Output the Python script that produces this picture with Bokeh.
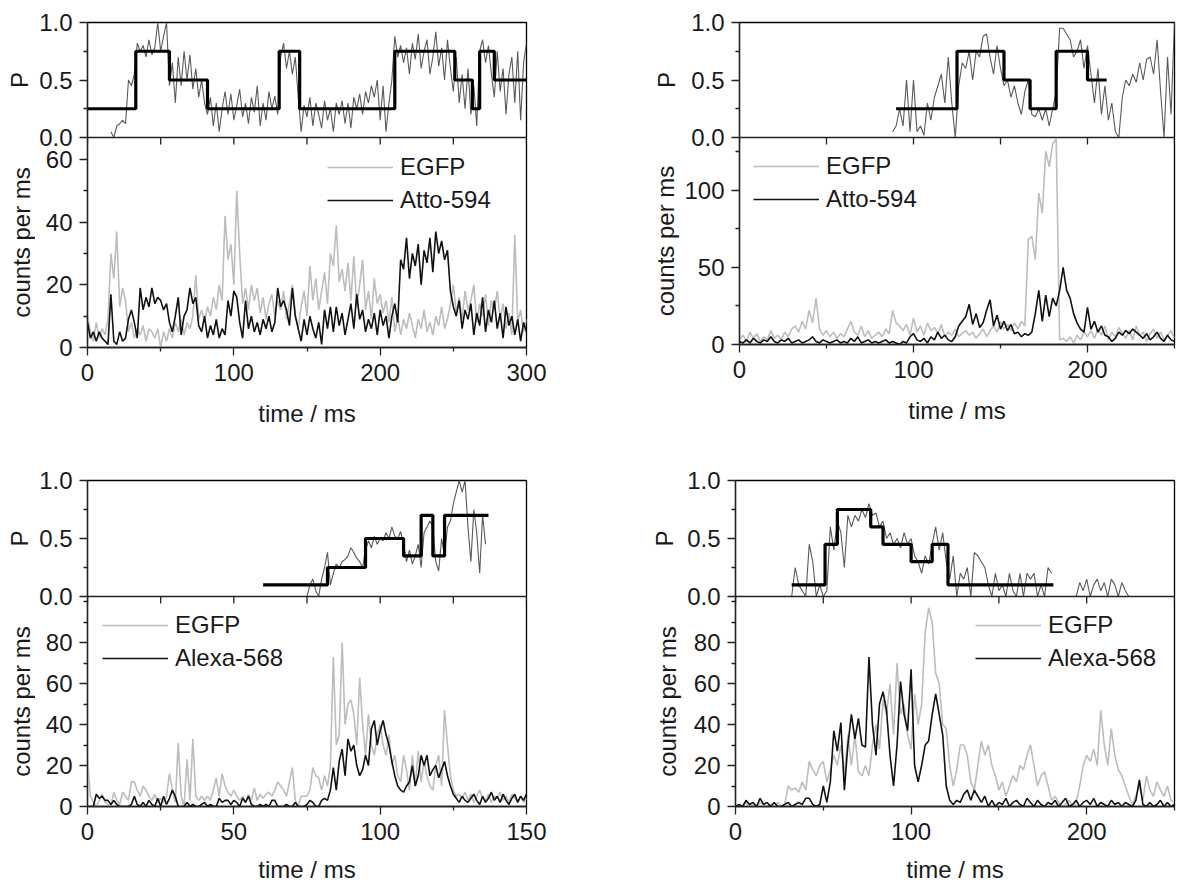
import numpy as np
from bokeh.plotting import figure
from bokeh.layouts import row, column
from bokeh.models import (Range1d, FixedTicker, CustomJSTickFormatter, Span,
                          Legend, LegendItem)
from bokeh.core.properties import value
from bokeh.embed import file_html
from bokeh.resources import INLINE

FONT = "Liberation Sans"
TXT = "#1a1a1a"
AX = "#222222"
EGFP_C = "#bdbdbd"
DYE_C = "#111111"
PN_C = "#5a5a5a"

# ---------------- Panel 1 (top left) : 2 ms bins, 0..300 ms ----------------
p1_step = 2
p1_dye = [8,3,5,2,5,3,2,1,17,2, 1,5,2,3,9,12,8,3,19,12, 16,13,19,14,16,15,12,14,8,5,
          10,16,4,10,12,19,14,16,7,5, 10,3,7,4,9,3,6,4,15,10, 18,16,8,3,15,6,10,5,8,4,
          9,6,10,5,8,19,13,15,12,7, 19,10,6,2,9,4,10,6,3,8, 1,12,6,13,5,13,7,11,4,9,
          14,6,17,9,12,5,9,6,11,4, 12,7,10,3,10,14,8,28,25,35, 22,30,26,33,20,31,27,35,24,37,
          30,34,28,31,18,13,10,15,6,12, 9,14,4,11,7,16,5,12,8,15, 6,11,3,13,7,10,4,9,2,8, 5]
p1_egfp = [10,5,2,8,3,6,4,9,30,22, 37,13,19,15,5,8,3,6,4,7, 2,6,5,3,6,0,5,2,6,3,
           8,5,9,4,8,6,10,23,9,12, 8,13,10,16,12,20,15,42,28,33, 20,50,30,14,19,12,20,15,19,11,
           16,9,14,17,10,15,12,18,9,14, 20,11,6,13,18,10,26,15,22,12, 18,24,14,30,26,39,21,25,18,27,
           15,29,13,20,28,12,18,9,22,14, 17,11,15,8,16,5,10,4,9,6, 11,7,3,9,6,12,5,8,4,10,
           7,13,6,9,14,20,11,16,9,18, 12,15,20,8,14,10,17,7,15,12, 18,9,14,6,11,4,36,8,12,5, 9]
p1_p_t0 = 16
p1_p = [0.05,0.0,0.1,0.12,0.15,0.12,0.5,0.45,0.55,0.82, 0.75,0.8,0.7,0.85,0.72,0.78,1.0,0.75,0.88,1.0,
        0.45,0.65,0.3,0.7,0.45,0.75,0.5,0.72,0.42,0.6, 0.35,0.5,0.3,0.2,0.35,0.1,0.3,0.05,0.25,0.4,
        0.2,0.38,0.15,0.28,0.42,0.18,0.3,0.12,0.35,0.22, 0.45,0.1,0.3,0.15,0.4,0.25,0.36,0.2,0.7,0.82,
        0.6,0.75,0.55,0.7,0.35,0.05,0.28,0.18,0.35,0.1, 0.3,0.2,0.08,0.32,0.15,0.25,0.05,0.3,0.2,0.32,
        0.12,0.3,0.08,0.35,0.25,0.38,0.2,0.4,0.3,0.45, 0.35,0.5,0.15,0.45,0.05,0.3,0.5,0.88,0.7,0.8,
        0.65,0.78,0.55,0.82,0.68,0.9,0.6,0.75,0.85,0.55, 0.7,0.92,0.62,0.78,0.5,0.85,0.6,0.4,0.7,0.3,
        0.55,0.25,0.6,0.2,0.45,0.1,0.75,0.85,0.65,0.8, 0.55,0.35,0.75,0.4,0.6,0.2,0.55,0.7,0.3,0.75,
        0.15,0.65,0.82]
p1_edges = [0,33,56,82,131,145,210,251,263,268,278,300]
p1_levels = [0.25,0.75,0.5,0.25,0.75,0.25,0.75,0.5,0.25,0.75,0.5]

# ---------------- Panel 2 (top right) : 2 ms bins, 0..250 ms ----------------
p2_step = 2
p2_dye = [2,1,3,1,4,2,1,3,2,5, 2,1,3,2,4,1,2,3,1,2, 3,5,2,1,3,2,1,2,3,1, 2,1,4,2,5,1,2,3,1,2,
          1,2,3,1,2,1,0,2,1,5, 7,3,2,4,1,5,3,8,4,6, 3,2,5,12,15,18,26,13,20,11, 14,22,29,12,19,10,15,9,13,7,
          8,5,7,6,8,20,35,15,32,18, 30,25,35,50,35,30,20,14,10,8, 24,10,15,8,12,6,5,2,4,8,
          6,9,7,10,8,6,4,7,3,5, 8,4,2,6,3,2]
p2_egfp = [3,6,2,8,4,7,2,5,3,9, 4,6,3,8,5,10,12,8,15,10, 22,14,30,10,6,9,5,8,4,7, 5,10,15,8,6,12,5,9,4,6,
           8,5,10,7,22,14,12,9,13,6, 17,8,12,6,14,9,11,7,13,5, 8,6,10,5,7,9,6,8,4,7, 10,5,9,12,8,15,10,13,9,14,
           10,15,12,68,70,55,98,85,125,115, 130,133,3,4,2,5,1,6,3,8, 5,9,4,10,6,12,3,8,5,11,
           7,4,9,3,12,6,8,2,7,10, 4,8,3,6,9,4]
p2_p_t0 = 88
p2_p = [0.05,0.1,0.25,0.1,0.5,0.05,0.5,0.05,0.1,0.02, 0.3,0.15,0.35,0.45,0.55,0.3,0.7,0.3,0.0,0.45,
        0.65,0.6,0.75,0.5,0.75,0.7,0.88,0.9,0.7,0.55, 0.8,0.6,0.45,0.5,0.35,0.45,0.3,0.2,0.4,0.5,
        0.2,0.18,0.25,0.15,0.25,0.1,0.25,0.4,0.95,0.95, 0.9,0.85,0.7,0.75,0.85,0.6,0.8,0.55,0.3,0.6,
        0.2,0.45,0.15,0.3,0.05,0.0,0.35,0.5,0.45,0.55, 0.48,0.65,0.5,0.68,0.7,0.55,0.85,0.4,0.0,0.7,
        0.2,1.0]
p2_edges = [90,125,152,167,182,200,211]
p2_levels = [0.25,0.75,0.5,0.25,0.75,0.5]

# ---------------- Panel 3 (bottom left) : 1 ms bins, 0..150 ms ----------------
p3_step = 1
p3_dye = [0,0,0,6,4,5,3,3,1,3, 1,0,0,0,0,1,5,1,0,2, 0,3,1,0,4,0,5,1,4,8, 5,0,0,0,2,0,1,0,0,1,
          2,0,1,0,0,4,2,3,3,1, 3,2,0,4,2,5,1,0,0,1, 0,1,0,3,3,0,0,0,1,0, 0,2,0,0,0,1,3,2,0,0,
          3,4,3,8,19,8,22,28,15,33, 27,30,20,15,18,25,20,38,42,30, 37,42,35,30,22,15,10,8,7,10,
          12,20,10,15,25,20,25,15,18,20, 14,18,22,15,10,6,4,2,5,3, 2,4,6,3,1,5,2,4,7,3,
          5,2,6,3,1,4,6,2,5,3, 6]
p3_egfp = [23,5,2,0,3,6,2,1,0,7, 3,1,7,5,3,12,12,8,5,10, 8,5,3,6,2,4,2,5,16,8, 2,31,5,0,23,3,33,5,3,5,
           3,5,3,8,14,5,16,10,7,5, 8,5,3,5,2,6,3,9,3,6, 4,6,7,5,8,12,10,8,5,12, 19,3,0,5,5,5,8,19,15,14,
           8,15,10,20,73,30,35,80,40,50, 52,45,30,63,40,25,45,30,25,35, 40,30,25,35,20,25,15,12,25,18,
           8,25,10,27,12,22,15,10,8,20, 25,10,47,30,15,8,5,6,4,7, 3,6,2,5,8,4,3,6,2,5,
           4,7,3,5,2,6,4,3,5,2, 4]
p3_p_t0 = 75
p3_p = [0.0,0.1,0.15,0.05,0.0,0.15,0.25,0.38,0.1,0.2, 0.28,0.25,0.3,0.32,0.35,0.42,0.38,0.33,0.3,0.25,
        0.4,0.48,0.42,0.52,0.45,0.5,0.48,0.55,0.5,0.6, 0.52,0.5,0.56,0.45,0.3,0.4,0.28,0.35,0.45,0.25,
        0.55,0.6,0.65,0.6,0.3,0.22,0.5,0.35,0.6,0.65, 0.8,0.9,1.0,0.9,1.0,0.6,0.3,0.75,0.55,0.2,
        0.7,0.45]
p3_edges = [60,82,95,108,114,118,122,137]
p3_levels = [0.1,0.25,0.5,0.35,0.7,0.35,0.7]

# ---------------- Panel 4 (bottom right) : 2 ms bins, 0..250 ms ----------------
p4_step = 2
p4_dye = [0,1,0,3,1,2,0,4,1,2, 0,2,0,0,1,2,0,1,2,1, 4,4,1,0,1,10,2,12,37,27, 41,8,30,45,33,43,30,29,73,40,
          25,50,56,47,25,10,30,61,45,37, 67,20,12,20,30,32,45,55,45,35, 10,3,1,3,2,6,8,3,8,5,
          2,5,0,3,0,2,1,4,0,2, 3,1,0,4,2,0,3,1,0,2, 1,3,0,2,4,0,1,3,0,2, 3,1,4,0,2,1,0,3,1,2,
          0,2,1,0,3,13,1,0,2,0, 1,3,0,2,0,1]
p4_egfp = [0,1,0,2,0,1,0,2,1,0, 1,0,2,0,1,10,8,9,7,12, 8,22,18,15,20,22,12,18,25,20, 30,15,35,20,35,17,15,20,15,30,
           40,28,52,45,60,35,70,45,50,35, 28,55,40,50,85,97,90,65,60,40, 38,20,10,18,30,30,25,12,8,20,
           32,25,30,20,15,8,12,5,10,15, 12,20,18,25,30,20,10,15,17,10, 3,5,2,0,1,3,0,2,10,20,
           25,22,28,20,47,30,20,38,25,18, 15,10,5,1,5,10,3,15,8,5, 12,8,5,10,3,2]
p4_pa_t0 = 32
p4_pa = [0.0,0.25,0.1,0.05,0.0,0.45,0.3,0.0,0.1,0.0, 0.05,0.6,0.4,0.65,0.55,0.25,0.7,0.6,0.7,0.65,
         0.75,0.68,0.8,0.7,0.72,0.6,0.65,0.5,0.55,0.45, 0.5,0.42,0.55,0.45,0.5,0.35,0.3,0.2,0.35,0.28,
         0.45,0.6,0.4,0.55,0.3,0.15,0.35,0.0,0.2,0.15, 0.25,0.0,0.38,0.35,0.3,0.25,0.1,0.0,0.2,0.05,
         0.1,0.0,0.2,0.05,0.0,0.2,0.0,0.2,0.15,0.2, 0.0,0.1,0.0,0.25,0.2]
p4_pb_t0 = 194
p4_pb = [0.0,0.12,0.05,0.15,0.0,0.1,0.15,0.05,0.12,0.0,0.15,0.1,0.0,0.12,0.05,0.0]
p4_edges = [32,51,58,77,84,100,112,121,181]
p4_levels = [0.1,0.45,0.75,0.6,0.45,0.3,0.45,0.1]

P_MAJOR = [0.0, 0.5, 1.0]
P_MINOR = [0.25, 0.75]


def style_axis(ax):
    ax.axis_line_color = AX
    ax.axis_line_width = 1.3
    ax.major_tick_line_color = AX
    ax.minor_tick_line_color = AX
    ax.major_tick_line_width = 1.3
    ax.minor_tick_line_width = 1.3
    ax.major_tick_out = 8
    ax.major_tick_in = 0
    ax.minor_tick_out = 4
    ax.minor_tick_in = 0
    ax.major_label_text_font = FONT
    ax.major_label_text_font_size = "24px"
    ax.major_label_text_color = TXT
    ax.axis_label_text_font = FONT
    ax.axis_label_text_font_size = "24px"
    ax.axis_label_text_font_style = "normal"
    ax.axis_label_text_color = TXT


def make_panel(step, egfp, dye, dye_name, p_parts, edges, levels,
               x_end, x_major, x_minor, div_ticks, c_end, c_major, c_minor,
               SW, L, W, R, T, Hp, Hc, B, leg_xy, p_xm, c_xm, x_lab_sd):
    H = Hp + Hc
    c_top = c_end * H / Hc          # counts value at the top of the frame
    k = c_top - c_end               # counts units per unit of P
    yr = Range1d(0, c_top)
    pr = Range1d(-Hc / Hp, 1.0)

    # narrow strip on the left carrying the two rotated axis titles
    s = figure(frame_width=SW, frame_height=H, min_border_left=0, min_border_right=0,
               min_border_top=T, min_border_bottom=B, x_range=Range1d(0, SW), y_range=yr,
               x_axis_location=None, y_axis_location=None,
               output_backend="svg", toolbar_location=None)
    s.extra_y_ranges = {"P": pr}
    s.xgrid.visible = False
    s.ygrid.visible = False
    s.outline_line_color = None
    s.border_fill_color = "white"
    s.background_fill_color = "white"
    s.text(x=[p_xm], y=[0.5], text=["P"], y_range_name="P", angle=np.pi / 2,
           text_align="center", text_baseline="middle", text_font=value(FONT),
           text_font_size=value("24px"), text_color=TXT)
    s.text(x=[c_xm], y=[c_end / 2], text=["counts per ms"], angle=np.pi / 2,
           text_align="center", text_baseline="middle", text_font=value(FONT),
           text_font_size=value("24px"), text_color=TXT)

    p = figure(frame_width=W, frame_height=H, min_border_left=L, min_border_right=R,
               min_border_top=T, min_border_bottom=B,
               x_range=Range1d(0, x_end), y_range=yr,
               output_backend="svg", toolbar_location=None)
    p.extra_y_ranges = {"P": pr}
    p.xgrid.visible = False
    p.ygrid.visible = False
    p.outline_line_color = "black"
    p.outline_line_width = 1.3
    p.background_fill_color = "white"
    p.border_fill_color = "white"

    # left axis: counts ticks below the divider, P ticks above it
    ya = p.yaxis[0]
    style_axis(ya)
    ya.ticker = FixedTicker(ticks=list(c_major) + [c_end + k * v for v in P_MAJOR],
                            minor_ticks=list(c_minor) + [c_end + k * v for v in P_MINOR])
    ya.formatter = CustomJSTickFormatter(args=dict(c_end=c_end, k=k), code="""
        if (tick > c_end - 1e-6) { return ((tick - c_end) / k).toFixed(1); }
        return tick.toFixed(0);
    """)
    ya.major_label_standoff = 7

    # time axis (bottom)
    xa = p.xaxis[0]
    style_axis(xa)
    xa.ticker = FixedTicker(ticks=x_major, minor_ticks=x_minor)
    xa.axis_label = "time / ms"
    xa.major_label_standoff = 8
    xa.axis_label_standoff = x_lab_sd

    # divider between the P part and the counts part, with its ticks
    p.add_layout(Span(location=c_end, dimension="width", line_color=AX, line_width=1.3))
    tick_len = 7 * c_top / H
    p.segment(x0=div_ticks, y0=[c_end] * len(div_ticks), x1=div_ticks,
              y1=[c_end - tick_len] * len(div_ticks), line_color=AX, line_width=1.3)

    # counts traces
    tc = np.arange(len(egfp)) * step
    rg = p.line(tc, egfp, line_color=EGFP_C, line_width=1.6)
    td = np.arange(len(dye)) * step
    rb = p.line(td, dye, line_color=DYE_C, line_width=1.6)

    # P traces
    for t0, vals in p_parts:
        tp = t0 + np.arange(len(vals)) * step
        p.line(tp, vals, line_color=PN_C, line_width=1.1, y_range_name="P")
    ys = list(levels) + [levels[-1]]
    p.step(edges, ys, mode="after", line_color="black", line_width=3.2, y_range_name="P")

    leg = Legend(items=[LegendItem(label="EGFP", renderers=[rg]),
                        LegendItem(label=dye_name, renderers=[rb])],
                 location=leg_xy, orientation="vertical",
                 background_fill_alpha=0, border_line_alpha=0,
                 padding=0, margin=0, spacing=3, glyph_width=66, glyph_height=30,
                 label_height=30, label_standoff=7, label_text_font=FONT,
                 label_text_font_size="24px", label_text_color=TXT)
    p.add_layout(leg)
    return s, p


s1, f1 = make_panel(p1_step, p1_egfp, p1_dye, "Atto-594", [(p1_p_t0, p1_p)], p1_edges, p1_levels,
                    300, [0, 100, 200, 300], [50, 150, 250], [0, 50, 100, 150, 200, 250, 300],
                    67, [0, 20, 40, 60], [10, 30, 50],
                    35, 52, 439, 24, 22, 115, 210, 93, (240, 132), 19, 21, 16)
s2, f2 = make_panel(p2_step, p2_egfp, p2_dye, "Atto-594", [(p2_p_t0, p2_p)], p2_edges, p2_levels,
                    250, [0, 100, 200], [50, 150, 250], [0, 50, 100, 150, 200, 250],
                    134, [0, 50, 100], [25, 75, 125],
                    131, 58, 435, 2, 21, 115, 207, 97, (14, 130), 116, 115, 16)
s3, f3 = make_panel(p3_step, p3_egfp, p3_dye, "Alexa-568", [(p3_p_t0, p3_p)], p3_edges, p3_levels,
                    150, [0, 50, 100, 150], [25, 75, 125], [0, 25, 50, 75, 100, 125, 150],
                    102.5, [0, 20, 40, 60, 80], [10, 30, 50, 70, 90, 100],
                    35, 52, 439, 24, 40, 116, 210, 83, (15, 133), 19, 21, 13)
s4, f4 = make_panel(p4_step, p4_egfp, p4_dye, "Alexa-568", [(p4_pa_t0, p4_pa), (p4_pb_t0, p4_pb)],
                    p4_edges, p4_levels,
                    250, [0, 100, 200], [50, 150, 250], [0, 50, 100, 150, 200, 250],
                    102.5, [0, 20, 40, 60, 80], [10, 30, 50, 70, 90, 100],
                    133, 52, 439, 2, 40, 116, 210, 83, (240, 133), 114, 117, 13)

layout = column(row(s1, f1, s2, f2), row(s3, f3, s4, f4))
open("out.html", "w").write(file_html(layout, INLINE))
